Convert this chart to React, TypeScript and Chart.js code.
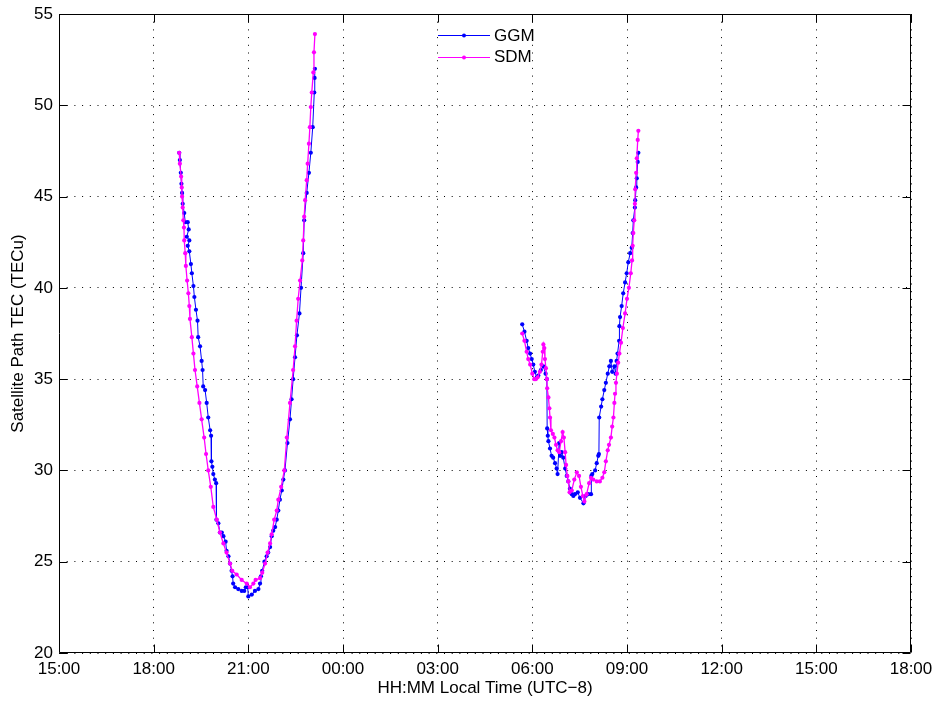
import React, { useEffect, useRef } from "react";
import { Chart, registerables } from "chart.js";

Chart.register(...registerables);

// ---- axis ticks ----
const xTickHours = [15, 18, 21, 24, 27, 30, 33, 36, 39, 42];
const xTickLabels = ["15:00", "18:00", "21:00", "00:00", "03:00", "06:00", "09:00", "12:00", "15:00", "18:00"];
const yTickValues = [20, 25, 30, 35, 40, 45, 50, 55];

const xTitle = "HH:MM Local Time (UTC\u22128)";
const yTitle = "Satellite Path TEC (TECu)";
const seriesNames = ["GGM", "SDM"];
const seriesColors = ["#0000ff", "#ff00ff"];

// ---- GGM, first pass (hours since 00:00 of day 1) ----
const ggmHoursA = [
  18.81, 18.83, 18.86, 18.88, 18.9, 18.92, 18.97, 19.0, 19.08, 19.11, 19.05, 19.13, 19.08, 19.13, 19.18,
  19.21, 19.26, 19.29, 19.34, 19.39, 19.41, 19.47, 19.52, 19.55, 19.57, 19.63, 19.68, 19.73, 19.79, 19.82,
  19.83, 19.86, 19.89, 19.94, 19.98, 19.99, 20.05, 20.1, 20.16, 20.21, 20.28, 20.31, 20.37, 20.42, 20.47,
  20.5, 20.52, 20.58, 20.68, 20.79, 20.87, 20.92, 20.98, 21.0, 21.11, 21.21, 21.32, 21.37, 21.4, 21.44,
  21.51, 21.58, 21.63, 21.69, 21.74, 21.79, 21.85, 21.9, 21.95, 22.0, 22.06, 22.11, 22.16, 22.24, 22.32,
  22.37, 22.42, 22.48, 22.54, 22.62, 22.67, 22.74, 22.77, 22.85, 22.92, 22.98, 23.04, 23.09, 23.1, 23.11,
];
const ggmTecA = [
  47.4, 47.0, 46.3, 45.7, 45.2, 44.6, 44.1, 43.6, 43.6, 43.2, 42.8, 42.6, 42.3, 42.0, 41.3,
  40.8, 40.1, 39.5, 38.8, 38.2, 37.3, 36.8, 36.0, 35.5, 34.6, 34.4, 33.7, 32.9, 32.2, 31.9,
  30.5, 30.2, 29.8, 29.5, 29.3, 27.3, 27.1, 26.6, 26.6, 26.4, 26.1, 25.6, 25.3, 24.9, 24.5,
  24.2, 23.8, 23.6, 23.5, 23.4, 23.4, 23.6, 23.6, 23.1, 23.2, 23.4, 23.5, 23.8, 24.2, 24.5,
  25.0, 25.3, 25.5, 25.8, 26.4, 26.7, 26.9, 27.3, 27.8, 28.4, 28.9, 29.5, 30.0, 31.5, 32.8,
  33.9, 35.0, 36.2, 37.4, 38.6, 40.0, 41.9, 43.7, 45.2, 46.3, 47.4, 48.8, 50.7, 51.5, 52.0,
];

// ---- GGM, second pass (hours, continuing past 24) ----
const ggmHoursB = [
  29.68, 29.75, 29.82, 29.87, 29.93, 29.98, 30.03, 30.08, 30.14, 30.19, 30.27, 30.35, 30.42, 30.46, 30.47,
  30.49, 30.51, 30.56, 30.61, 30.66, 30.72, 30.77, 30.8, 30.85, 30.88, 30.93, 30.98, 31.04, 31.09, 31.14,
  31.19, 31.25, 31.3, 31.35, 31.44, 31.51, 31.62, 31.69, 31.77, 31.86, 31.87, 31.9, 31.99, 32.04, 32.09,
  32.11, 32.12, 32.18, 32.22, 32.28, 32.33, 32.39, 32.44, 32.49, 32.53, 32.6, 32.64, 32.67, 32.7, 32.75,
  32.76, 32.78, 32.83, 32.88, 32.94, 32.99, 33.04, 33.1, 33.15, 33.18, 33.2, 33.25, 33.26, 33.29, 33.31,
  33.34, 33.36,
];
const ggmTecB = [
  38.0, 37.6, 37.1, 36.7, 36.4, 36.1, 35.8, 35.4, 35.1, 35.2, 35.5, 35.7, 35.3, 35.0, 32.3,
  31.9, 31.6, 31.2, 30.8, 30.7, 30.4, 30.1, 29.8, 31.5, 30.8, 31.0, 30.7, 30.1, 29.7, 29.4,
  29.0, 28.7, 28.6, 28.7, 28.8, 28.5, 28.2, 28.6, 28.7, 28.7, 29.7, 29.8, 30.0, 30.4, 30.8,
  30.9, 32.9, 33.5, 33.9, 34.4, 34.8, 35.3, 35.7, 36.0, 35.4, 35.7, 35.3, 36.0, 36.4, 37.1,
  37.9, 38.4, 39.0, 39.7, 40.3, 40.8, 41.4, 41.9, 42.2, 43.0, 43.7, 44.4, 44.8, 45.5, 46.0,
  46.9, 47.4,
];

// ---- SDM, first pass ----
const sdmHoursA = [
  18.81, 18.83, 18.87, 18.89, 18.9, 18.92, 18.94, 18.96, 18.97, 19.0, 19.02, 19.06, 19.1, 19.13, 19.15,
  19.21, 19.26, 19.31, 19.38, 19.45, 19.52, 19.6, 19.66, 19.73, 19.81, 19.89, 20.0, 20.1, 20.21, 20.31,
  20.42, 20.49, 20.63, 20.79, 20.95, 21.05, 21.16, 21.23, 21.37, 21.44, 21.53, 21.61, 21.69, 21.74, 21.82,
  21.9, 21.95, 22.04, 22.14, 22.22, 22.32, 22.42, 22.48, 22.53, 22.58, 22.64, 22.71, 22.74, 22.77, 22.8,
  22.85, 22.88, 22.92, 22.95, 22.98, 23.01, 23.06, 23.08, 23.11,
];
const sdmTecA = [
  47.4, 46.8, 46.1, 45.5, 45.0, 44.4, 43.7, 43.3, 42.6, 41.9, 41.2, 40.4, 39.7, 39.0, 38.3,
  37.3, 36.4, 35.5, 34.6, 33.7, 32.8, 31.8, 30.9, 30.0, 29.1, 28.0, 27.3, 26.6, 26.0, 25.5,
  24.9, 24.5, 24.3, 24.0, 23.8, 23.6, 23.8, 24.0, 24.1, 24.4, 24.9, 25.5, 26.0, 26.5, 27.3,
  27.8, 28.4, 29.1, 30.0, 31.8, 33.7, 35.5, 36.8, 38.2, 39.4, 40.4, 41.5, 42.6, 43.9, 44.8,
  45.9, 46.8, 47.9, 48.8, 49.9, 50.7, 51.8, 52.9, 53.9,
];

// ---- SDM, second pass ----
const sdmHoursB = [
  29.68, 29.75, 29.82, 29.87, 29.93, 30.0, 30.06, 30.11, 30.17, 30.24, 30.29, 30.33, 30.35, 30.38, 30.4,
  30.43, 30.46, 30.47, 30.51, 30.54, 30.56, 30.59, 30.65, 30.7, 30.75, 30.8, 30.85, 30.91, 30.96, 31.0,
  31.04, 31.07, 31.11, 31.14, 31.18, 31.25, 31.33, 31.41, 31.48, 31.54, 31.6, 31.65, 31.72, 31.8, 31.86,
  31.93, 32.04, 32.14, 32.22, 32.28, 32.33, 32.39, 32.43, 32.49, 32.53, 32.57, 32.6, 32.62, 32.65, 32.68,
  32.72, 32.76, 32.81, 32.87, 32.94, 33.0, 33.06, 33.12, 33.16, 33.18, 33.2, 33.23, 33.25, 33.26, 33.29,
  33.31, 33.34, 33.36,
];
const sdmTecB = [
  37.5, 37.1, 36.5, 36.1, 35.8, 35.3, 35.0, 35.0, 35.1, 35.4, 35.8, 36.5, 36.9, 36.7, 36.1,
  35.6, 35.0, 34.5, 34.0, 33.4, 32.9, 32.2, 32.0, 31.8, 31.4, 31.1, 31.0, 31.6, 32.1, 31.8,
  31.0, 30.3, 29.7, 29.4, 28.8, 28.9, 29.5, 29.9, 29.7, 29.1, 28.6, 28.3, 28.7, 29.3, 29.6,
  29.5, 29.4, 29.4, 29.6, 29.9, 30.5, 31.1, 31.4, 31.8, 32.4, 32.9, 33.7, 34.2, 34.8, 35.3,
  35.9, 36.4, 37.0, 37.8, 38.6, 39.4, 40.0, 40.8, 41.5, 42.3, 43.0, 43.7, 44.6, 45.4, 46.3,
  47.1, 48.1, 48.6,
];

type Pt = { x: number; y: number | null };

function buildPoints(hA: number[], tA: number[], hB: number[], tB: number[]): Pt[] {
  const pts: Pt[] = hA.map((h, i) => ({ x: h, y: tA[i] }));
  pts.push({ x: (hA[hA.length - 1] + hB[0]) / 2, y: null });
  hB.forEach((h, i) => pts.push({ x: h, y: tB[i] }));
  return pts;
}

const FONT_FAMILY = '"Liberation Sans", Arial, Helvetica, sans-serif';

const framePlugin = {
  id: "matlabFrame",
  afterDatasetsDraw(chart: any) {
    const { ctx, chartArea: a, scales } = chart;
    const xs = scales.x;
    const ys = scales.y;
    const L = Math.round(a.left) + 0.5;
    const R = Math.round(a.right) - 0.5;
    const T = Math.round(a.top) + 0.5;
    const B = Math.round(a.bottom) - 0.5;
    const tick = 8;
    ctx.save();
    ctx.strokeStyle = "#000";
    ctx.lineWidth = 1;
    ctx.setLineDash([]);
    ctx.beginPath();
    ctx.rect(L, T, R - L, B - T);
    xTickHours.forEach((h) => {
      const px = Math.round(xs.getPixelForValue(h)) + 0.5;
      ctx.moveTo(px, B);
      ctx.lineTo(px, B - tick);
      ctx.moveTo(px, T);
      ctx.lineTo(px, T + tick);
    });
    yTickValues.forEach((v) => {
      const py = Math.round(ys.getPixelForValue(v)) + 0.5;
      ctx.moveTo(L, py);
      ctx.lineTo(L + tick, py);
      ctx.moveTo(R, py);
      ctx.lineTo(R - tick, py);
    });
    ctx.stroke();

    // legend (North, no box)
    const cx = (a.left + a.right) / 2;
    const ds = chart.data.datasets;
    ctx.font = `17px ${FONT_FAMILY}`;
    ctx.textBaseline = "middle";
    ctx.textAlign = "left";
    ds.forEach((d: any, i: number) => {
      const y = a.top + 21 + i * 21.5;
      ctx.strokeStyle = d.borderColor;
      ctx.lineWidth = 1;
      ctx.beginPath();
      ctx.moveTo(cx - 47, Math.round(y) + 0.5);
      ctx.lineTo(cx + 5, Math.round(y) + 0.5);
      ctx.stroke();
      ctx.fillStyle = d.borderColor;
      ctx.beginPath();
      ctx.arc(cx - 21, Math.round(y) + 0.5, 2, 0, Math.PI * 2);
      ctx.fill();
      ctx.fillStyle = "#000";
      ctx.fillText(d.label, cx + 9, y + 1);
    });
    ctx.restore();
  },
};

export default function App() {
  const canvasRef = useRef<HTMLCanvasElement | null>(null);

  useEffect(() => {
    const canvas = canvasRef.current;
    if (!canvas) return;
    const font = { family: FONT_FAMILY, size: 17 };
    const ggm = buildPoints(ggmHoursA, ggmTecA, ggmHoursB, ggmTecB);
    const sdm = buildPoints(sdmHoursA, sdmTecA, sdmHoursB, sdmTecB);

    const chart = new Chart(canvas, {
      type: "line",
      data: {
        datasets: [
          {
            label: seriesNames[0],
            data: ggm as any,
            borderColor: seriesColors[0],
            backgroundColor: seriesColors[0],
            borderWidth: 1,
            pointRadius: 2.1,
            pointBorderWidth: 0,
            pointHoverRadius: 0,
            spanGaps: false,
            tension: 0,
            order: 1,
          },
          {
            label: seriesNames[1],
            data: sdm as any,
            borderColor: seriesColors[1],
            backgroundColor: seriesColors[1],
            borderWidth: 1.3,
            pointRadius: 2.1,
            pointBorderWidth: 0,
            pointHoverRadius: 0,
            spanGaps: false,
            tension: 0,
            order: 0,
          },
        ],
      },
      options: {
        responsive: false,
        animation: false,
        devicePixelRatio: 1,
        events: [],
        layout: { padding: { left: 0, right: 29, top: 14, bottom: 0 } },
        plugins: {
          legend: { display: false },
          tooltip: { enabled: false },
        },
        scales: {
          x: {
            type: "linear",
            min: 15,
            max: 42,
            afterBuildTicks: (s: any) => {
              s.ticks = xTickHours.map((v) => ({ value: v }));
            },
            afterFit: (s: any) => {
              s.height = 49;
              s.paddingLeft = 0;
              s.paddingRight = 0;
            },
            ticks: {
              autoSkip: false,
              maxRotation: 0,
              padding: 6,
              color: "#000",
              font,
              callback: (v: any) => {
                const i = xTickHours.indexOf(Number(v));
                return i >= 0 ? xTickLabels[i] : "";
              },
            },
            grid: { color: "#000", lineWidth: 1, drawTicks: false },
            border: { display: false, dash: [1, 6.7] },
            title: {
              display: true,
              text: xTitle,
              color: "#000",
              font,
              padding: { top: 0, bottom: 3 },
            },
          },
          y: {
            type: "linear",
            min: 20,
            max: 55,
            afterBuildTicks: (s: any) => {
              s.ticks = yTickValues.map((v) => ({ value: v }));
            },
            afterFit: (s: any) => {
              s.width = 59;
              s.paddingTop = 0;
              s.paddingBottom = 0;
            },
            ticks: {
              padding: 6,
              color: "#000",
              font,
              callback: (v: any) => String(v),
            },
            grid: { color: "#000", lineWidth: 1, drawTicks: false },
            border: { display: false, dash: [1, 6.7] },
            title: {
              display: true,
              text: yTitle,
              color: "#000",
              font,
              padding: { top: 8, bottom: 0 },
            },
          },
        },
      },
      plugins: [framePlugin],
    });

    return () => {
      chart.destroy();
    };
  }, []);

  return (
    <div style={{ position: "absolute", left: 0, top: 0, width: 940, height: 702, background: "#fff" }}>
      <canvas ref={canvasRef} width={940} height={702} style={{ display: "block", width: 940, height: 702 }} />
    </div>
  );
}
